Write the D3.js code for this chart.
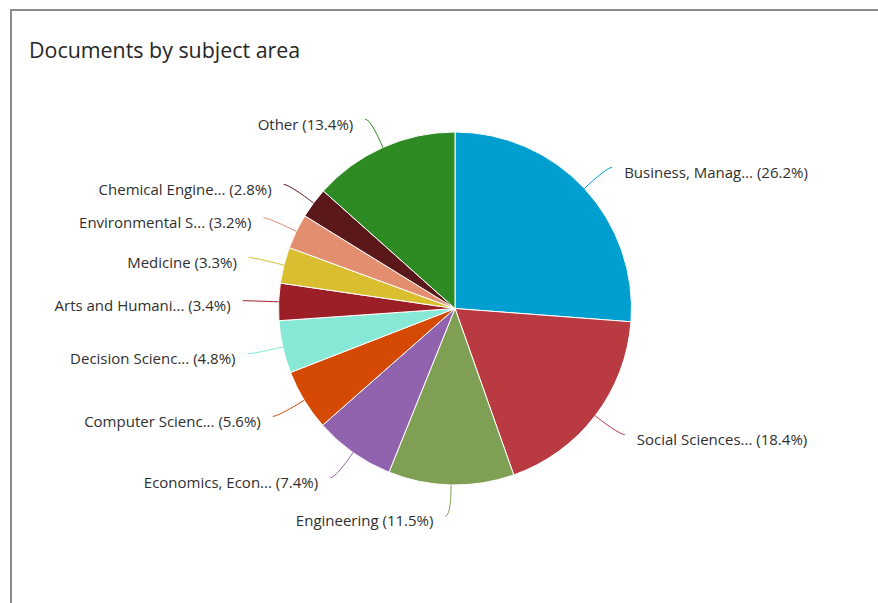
<!DOCTYPE html>
<html>
<head>
<meta charset="utf-8">
<script src="https://cdn.jsdelivr.net/npm/d3@7"></script>
<style>
  html, body { margin: 0; padding: 0; background: #fff; }
  svg { display: block; }
  text { font-family: "Open Sans", sans-serif; fill: #2f2f2f; }
</style>
</head>
<body>
<svg id="chart" width="878" height="603"></svg>
<script>
// Subject areas, clockwise from 12 o'clock
const subjects = [
  "Business, Manag...", "Social Sciences...", "Engineering", "Economics, Econ...",
  "Computer Scienc...", "Decision Scienc...", "Arts and Humani...", "Medicine",
  "Environmental S...", "Chemical Engine...", "Other"
];
const shares = [26.2, 18.4, 11.5, 7.4, 5.6, 4.8, 3.4, 3.3, 3.2, 2.8, 13.4];
const sliceColors = [
  "#009fcf", "#b93a40", "#7f9f55", "#9163af", "#d44a05", "#87e9d5",
  "#9c1f28", "#d9bf2f", "#e38e6f", "#5b181b", "#2e8a23"
];
const title = "Documents by subject area";

const width = 878, height = 603;
const cx = 455, cy = 308.5, radius = 176.5;
const labelDistance = 31;      // gap from pie edge to label connector
const connectorOffset = 5;     // second break just outside the pie

const svg = d3.select("#chart");

// frame: top and left edge of the panel
svg.append("line").attr("x1", 10).attr("x2", width).attr("y1", 10).attr("y2", 10)
  .attr("stroke", "#8a8a8a").attr("stroke-width", 2);
svg.append("line").attr("x1", 11).attr("x2", 11).attr("y1", 9).attr("y2", height)
  .attr("stroke", "#8a8a8a").attr("stroke-width", 2);

svg.append("text")
  .attr("x", 29).attr("y", 58)
  .style("font-size", "21.4px")
  .style("fill", "#262626")
  .text(title);

const data = subjects.map((name, i) => ({ name, value: shares[i], color: sliceColors[i] }));

const pie = d3.pie().sort(null).value(d => d.value);
const arcs = pie(data);
const arc = d3.arc().innerRadius(0).outerRadius(radius);

const g = svg.append("g").attr("transform", `translate(${cx},${cy})`);

g.selectAll("path.slice")
  .data(arcs)
  .join("path")
  .attr("class", "slice")
  .attr("d", arc)
  .attr("fill", d => d.data.color)
  .attr("stroke", "#ffffff")
  .attr("stroke-width", 1)
  .attr("stroke-linejoin", "round");

const fmt = d3.format(".1f");
const R2 = radius + labelDistance;

arcs.forEach(d => {
  const mid = (d.startAngle + d.endAngle) / 2;
  const sx = Math.sin(mid), sy = -Math.cos(mid);
  const left = sx < 0;
  const baseX = radius * sx, baseY = radius * sy;
  const brX = (radius + connectorOffset) * sx, brY = (radius + connectorOffset) * sy;
  const ly = R2 * sy;
  const lx = (left ? -1 : 1) * Math.sqrt(Math.max(0, R2 * R2 - ly * ly));
  const startX = lx + (left ? -5 : 5);

  const p = d3.path();
  p.moveTo(startX, ly);
  p.bezierCurveTo(lx, ly, 2 * brX - baseX, 2 * brY - baseY, brX, brY);
  p.lineTo(baseX, baseY);

  g.append("path")
    .attr("d", p.toString())
    .attr("fill", "none")
    .attr("stroke", d.data.color)
    .attr("stroke-width", 1);

  g.append("text")
    .attr("x", lx + (left ? -17 : 17))
    .attr("y", ly + 10.5)
    .attr("text-anchor", left ? "end" : "start")
    .style("font-size", "15px")
    .text(`${d.data.name} (${fmt(d.data.value)}%)`);
});
</script>
</body>
</html>
